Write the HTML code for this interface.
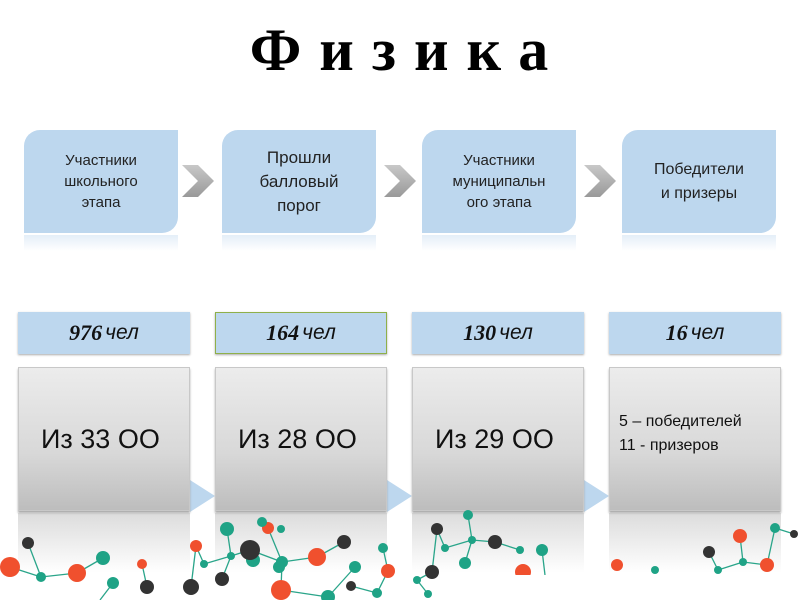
<!DOCTYPE html>
<html><head><meta charset="utf-8"><style>
body{margin:0;width:800px;height:600px;background:#fff;position:relative;overflow:hidden;font-family:"Liberation Sans","DejaVu Sans",sans-serif}
.t{position:absolute;left:0;width:780px;top:16px;text-align:center;font:bold 60px "Liberation Serif","DejaVu Serif",serif;letter-spacing:18px;color:#000;padding-left:18px}
.top{position:absolute;top:130px;width:154px;height:103px;background:#bdd7ee;border-radius:16px 0 16px 0;display:flex;align-items:center;justify-content:center;text-align:center;color:#222;font-size:15px;line-height:21px}
.ref1{position:absolute;top:235px;width:154px;height:16px;background:linear-gradient(#e4eef8,#fff)}
.cnt{position:absolute;top:312px;width:172px;height:42px;background:#bdd7ee;box-sizing:border-box;box-shadow:0 1px 2px #aaa;display:flex;align-items:center;justify-content:center;font-size:21px;font-style:italic;color:#111}
.cnt b{font-family:"Liberation Serif",serif;font-size:22px;margin-right:3px}
.g{position:absolute;top:367px;width:172px;height:144px;box-sizing:border-box;border:1px solid #c8c8c8;background:linear-gradient(#ececec,#d8d8d8 60%,#bdbdbd);box-shadow:0 2px 2px #aaa;display:flex;align-items:center;font-size:27px;color:#111;padding-left:22px}
.ref2{position:absolute;top:513px;width:172px;height:60px;background:linear-gradient(#dcdcdc,#fff)}
</style></head><body>
<div class="t">Физика</div>
<div class="top" style="left:24px">Участники<br>школьного<br>этапа</div>
<div class="top" style="left:222px;font-size:17px;line-height:24px">Прошли<br>балловый<br>порог</div>
<div class="top" style="left:422px">Участники<br>муниципальн<br>ого этапа</div>
<div class="top" style="left:622px;font-size:16px;line-height:24px">Победители<br>и призеры</div>
<div class="ref1" style="left:24px"></div><div class="ref1" style="left:222px"></div><div class="ref1" style="left:422px"></div><div class="ref1" style="left:622px"></div>
<svg style="position:absolute;left:0;top:0" width="800" height="600">
<defs><linearGradient id="cg" x1="0" y1="0" x2="0" y2="1"><stop offset="0" stop-color="#c8c8c8"/><stop offset="1" stop-color="#999"/></linearGradient></defs>
<polygon points="182,165 198,165 214,181 198,197 182,197 198,181" fill="url(#cg)"/>
<polygon points="384,165 400,165 416,181 400,197 384,197 400,181" fill="url(#cg)"/>
<polygon points="584,165 600,165 616,181 600,197 584,197 600,181" fill="url(#cg)"/>
<polygon points="190,480 215,496 190,512" fill="#bdd7ee"/>
<polygon points="387,480 412,496 387,512" fill="#bdd7ee"/>
<polygon points="584,480 609,496 584,512" fill="#bdd7ee"/>
</svg>
<div class="cnt" style="left:18px"><b>976</b>чел</div>
<div class="cnt" style="left:215px;border:1.5px solid #8fb04a"><b>164</b>чел</div>
<div class="cnt" style="left:412px"><b>130</b>чел</div>
<div class="cnt" style="left:609px"><b>16</b>чел</div>
<div class="ref2" style="left:18px"></div><div class="ref2" style="left:215px"></div><div class="ref2" style="left:412px"></div><div class="ref2" style="left:609px"></div>
<div class="g" style="left:18px">Из 33 ОО</div>
<div class="g" style="left:215px">Из 28 ОО</div>
<div class="g" style="left:412px">Из 29 ОО</div>
<div class="g" style="left:609px;font-size:16px;line-height:24px;padding-left:9px;padding-bottom:10px">5 – победителей<br>11 - призеров</div>
<svg style="position:absolute;left:0;top:0" width="800" height="600">
<g stroke="#2aa58a" stroke-width="1.3">
<line x1="28" y1="543" x2="41" y2="577"/><line x1="10" y1="567" x2="41" y2="577"/><line x1="41" y1="577" x2="77" y2="573"/><line x1="77" y1="573" x2="103" y2="558"/>
<line x1="113" y1="583" x2="100" y2="600"/><line x1="142" y1="564" x2="147" y2="587"/><line x1="196" y1="546" x2="191" y2="587"/><line x1="196" y1="546" x2="204" y2="564"/>
<line x1="204" y1="564" x2="231" y2="556"/><line x1="231" y1="556" x2="250" y2="550"/><line x1="231" y1="556" x2="222" y2="579"/><line x1="227" y1="529" x2="231" y2="556"/>
<line x1="268" y1="528" x2="282" y2="562"/><line x1="250" y1="550" x2="282" y2="562"/><line x1="282" y1="562" x2="317" y2="557"/><line x1="317" y1="557" x2="344" y2="542"/>
<line x1="282" y1="562" x2="281" y2="590"/><line x1="281" y1="590" x2="328" y2="597"/><line x1="328" y1="597" x2="355" y2="567"/><line x1="351" y1="586" x2="377" y2="593"/>
<line x1="377" y1="593" x2="388" y2="571"/><line x1="388" y1="571" x2="383" y2="548"/><line x1="437" y1="529" x2="445" y2="548"/><line x1="445" y1="548" x2="472" y2="540"/>
<line x1="472" y1="540" x2="495" y2="542"/><line x1="472" y1="540" x2="465" y2="563"/><line x1="468" y1="515" x2="472" y2="540"/><line x1="495" y1="542" x2="520" y2="550"/>
<line x1="437" y1="529" x2="432" y2="572"/><line x1="432" y1="572" x2="417" y2="580"/><line x1="417" y1="580" x2="428" y2="594"/><line x1="542" y1="550" x2="545" y2="575"/>
<line x1="740" y1="536" x2="743" y2="562"/><line x1="709" y1="552" x2="718" y2="570"/><line x1="743" y1="562" x2="767" y2="565"/><line x1="775" y1="528" x2="767" y2="565"/><line x1="775" y1="528" x2="794" y2="534"/><line x1="718" y1="570" x2="743" y2="562"/>
</g>
<g fill="#f0502e"><circle cx="10" cy="567" r="10"/><circle cx="77" cy="573" r="9"/><circle cx="142" cy="564" r="5"/><circle cx="196" cy="546" r="6"/><circle cx="268" cy="528" r="6"/><circle cx="317" cy="557" r="9"/><circle cx="281" cy="590" r="10"/><circle cx="388" cy="571" r="7"/><circle cx="523" cy="572" r="8"/><circle cx="617" cy="565" r="6"/><circle cx="740" cy="536" r="7"/><circle cx="767" cy="565" r="7"/></g>
<g fill="#1fa386"><circle cx="41" cy="577" r="5"/><circle cx="103" cy="558" r="7"/><circle cx="113" cy="583" r="6"/><circle cx="227" cy="529" r="7"/><circle cx="253" cy="560" r="7"/><circle cx="262" cy="522" r="5"/><circle cx="281" cy="529" r="4"/><circle cx="282" cy="562" r="6"/><circle cx="279" cy="567" r="6"/><circle cx="231" cy="556" r="4"/><circle cx="204" cy="564" r="4"/><circle cx="328" cy="597" r="7"/><circle cx="355" cy="567" r="6"/><circle cx="377" cy="593" r="5"/><circle cx="383" cy="548" r="5"/><circle cx="468" cy="515" r="5"/><circle cx="472" cy="540" r="4"/><circle cx="445" cy="548" r="4"/><circle cx="520" cy="550" r="4"/><circle cx="542" cy="550" r="6"/><circle cx="465" cy="563" r="6"/><circle cx="417" cy="580" r="4"/><circle cx="428" cy="594" r="4"/><circle cx="655" cy="570" r="4"/><circle cx="775" cy="528" r="5"/><circle cx="743" cy="562" r="4"/><circle cx="718" cy="570" r="4"/></g>
<g fill="#333"><circle cx="28" cy="543" r="6"/><circle cx="147" cy="587" r="7"/><circle cx="191" cy="587" r="8"/><circle cx="222" cy="579" r="7"/><circle cx="250" cy="550" r="10"/><circle cx="344" cy="542" r="7"/><circle cx="351" cy="586" r="5"/><circle cx="437" cy="529" r="6"/><circle cx="495" cy="542" r="7"/><circle cx="432" cy="572" r="7"/><circle cx="709" cy="552" r="6"/><circle cx="794" cy="534" r="4"/></g>
<rect x="510" y="575" width="290" height="25" fill="#fff"/>
</svg>
</body></html>
